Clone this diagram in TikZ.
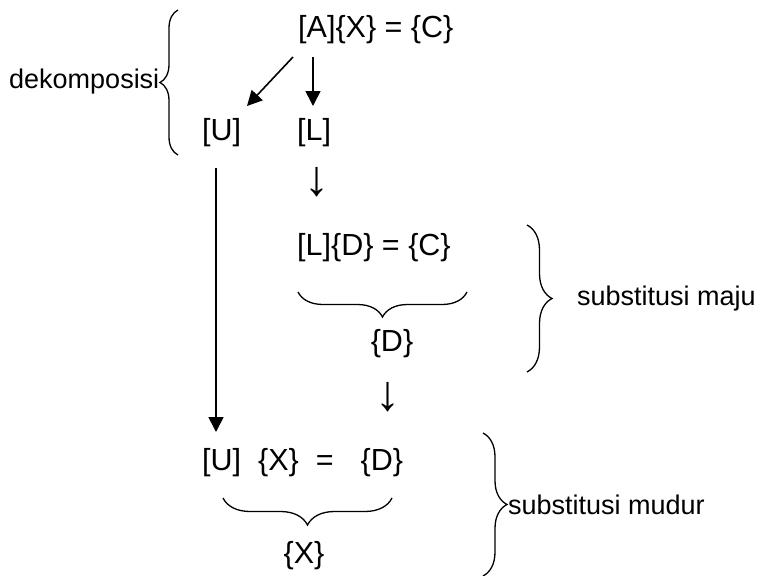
\documentclass[tikz,border=0pt]{standalone}
\usepackage{fontspec}
\setmainfont{Liberation Sans}
\usetikzlibrary{arrows.meta,decorations.pathreplacing}
\begin{document}
\begin{tikzpicture}[x=1pt,y=-1pt,
  eqn/.style={inner sep=0pt, font=\fontsize{30.5}{36}\selectfont},
  note/.style={inner sep=0pt, font=\fontsize{27}{32}\selectfont},
  down/.style={inner sep=0pt, font=\fontsize{50}{56}\selectfont},
  flow/.style={line width=1.6pt, -{Triangle[length=15pt,width=15pt]}},
  curly/.style={line width=1.3pt, decorate, decoration={brace, amplitude=#1}},
  curly/.default=20pt,
]
\useasboundingbox (0,0) rectangle (764,576);

% decomposition step
\node[eqn, anchor=base west] (eqA) at (298,37) {[A]\{X\} = \{C\}};
\node[note, anchor=base west] (dek) at (9,88) {dekomposisi};
\node[eqn, anchor=base west] (U1) at (202,140) {[U]};
\node[eqn, anchor=base west] (L1) at (297,140) {[L]};
\draw[curly=18pt] (178,155) -- (178,10);

\coordinate (a1) at (293,57);  \coordinate (a2) at (247,106);
\coordinate (b1) at (313,57);  \coordinate (b2) at (313,106);
\draw[flow] (a1) -- (a2);
\draw[flow] (b1) -- (b2);

% forward substitution
\node[down] (dn1) at (317,182) {↓};
\node[eqn, anchor=base west] (eqL) at (297,255) {[L]\{D\} = \{C\}};
\draw[curly=25pt] (467,292) -- (298,292);
\node[eqn] (D1) at (392,344) {\{D\}};
\draw[curly=25pt] (527,225) -- (527,372);
\node[note, anchor=west] (maju) at (577,299) {substitusi maju};

% backward substitution
\node[down] (dn2) at (388,397) {↓};
\coordinate (c1) at (216,168); \coordinate (c2) at (216,432);
\draw[flow] (c1) -- (c2);
\node[eqn, anchor=base west] (eqU) at (202,470)
  {[U]\hspace{17pt}\{X\}\hspace{17pt}=\hspace{27pt}\{D\}};
\draw[curly=27pt] (392,498) -- (223,498);
\node[eqn] (X1) at (304,556) {\{X\}};
\draw[curly=24pt] (483,433) -- (483,576);
\node[note, anchor=west] (mudur) at (508,505) {substitusi mudur};
\end{tikzpicture}
\end{document}
